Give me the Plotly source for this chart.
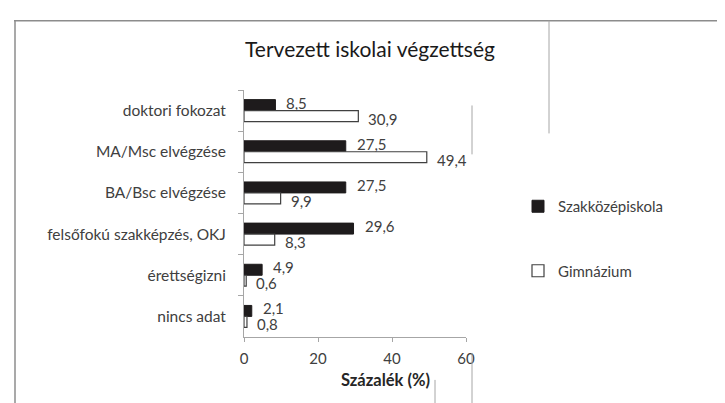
import plotly.graph_objects as go

categories = ["doktori fokozat", "MA/Msc elvégzése", "BA/Bsc elvégzése",
              "felsőfokú szakképzés, OKJ", "érettségizni", "nincs adat"]
szakkozep = [8.5, 27.5, 27.5, 29.6, 4.9, 2.1]
gimnazium = [30.9, 49.4, 9.9, 8.3, 0.6, 0.8]
x_ticks = [0, 20, 40, 60]

FONT = "Lato"
TXT = "#404040"

fig = go.Figure()
fig.add_trace(go.Bar(
    y=categories, x=szakkozep, orientation="h", name="Szakközépiskola",
    marker=dict(color="#1e1b1c", line=dict(color="#1e1b1c", width=1)),
    legendgroup="a"))
fig.add_trace(go.Bar(
    y=categories, x=gimnazium, orientation="h", name="Gimnázium",
    marker=dict(color="white", line=dict(color="#404040", width=1.2)),
    legendgroup="b"))

def fmt(v):
    return f"{v:.1f}".replace(".", ",")

annotations = []
for c, v in zip(categories, szakkozep):
    annotations.append(dict(x=v, y=c, text=fmt(v), showarrow=False, xanchor="left",
                            xshift=9, yshift=8, font=dict(family=FONT, size=15, color=TXT)))
for c, v in zip(categories, gimnazium):
    annotations.append(dict(x=v, y=c, text=fmt(v), showarrow=False, xanchor="left",
                            xshift=8, yshift=-8, font=dict(family=FONT, size=15, color=TXT)))

L, R, T, B = 236, 458, 81.5, 329
def px(x):
    return (x - L) / (R - L)
def py(y):
    return (B - y) / (B - T)

annotations.append(dict(x=px(377), y=py(384), xref="paper", yref="paper",
                        text="<b>Százalék (%)</b>", showarrow=False,
                        font=dict(family=FONT, size=16.5, color="#262626")))

line_col = "#a6a6a6"
shapes = [
    dict(type="line", xref="paper", yref="paper", x0=px(6), x1=px(725), y0=py(12), y1=py(12),
         line=dict(color="#8c8c8c", width=1.5)),
    dict(type="line", xref="paper", yref="paper", x0=px(7), x1=px(7), y0=py(12), y1=py(403),
         line=dict(color="#8c8c8c", width=1.5)),
    dict(type="line", xref="paper", yref="paper", x0=px(541), x1=px(541), y0=py(12), y1=py(125),
         line=dict(color=line_col, width=1)),
    dict(type="line", xref="paper", yref="paper", x0=px(464), x1=px(464), y0=py(97), y1=py(146),
         line=dict(color=line_col, width=1)),
    dict(type="line", xref="paper", yref="paper", x0=px(427), x1=px(427), y0=py(372), y1=py(403),
         line=dict(color=line_col, width=1)),
    dict(type="line", xref="paper", yref="paper", x0=px(464), x1=px(464), y0=py(345), y1=py(403),
         line=dict(color=line_col, width=1)),
]

fig.update_layout(
    width=725, height=403,
    margin=dict(l=L, r=725 - R, t=T, b=403 - B, autoexpand=False),
    paper_bgcolor="white", plot_bgcolor="white",
    barmode="group", bargap=0.467, bargroupgap=0,
    title=dict(text="Tervezett iskolai végzettség", x=362 / 725, xanchor="center",
               y=1 - 42 / 403, yanchor="middle",
               font=dict(family=FONT, size=21, color="#1a1a1a")),
    xaxis=dict(range=[0, 60], tickvals=x_ticks, showgrid=False, zeroline=False,
               automargin=False,
               showline=True, linecolor="#a6a6a6", linewidth=1, ticks="outside",
               ticklen=4, tickcolor="#a6a6a6", ticklabelstandoff=4,
               tickfont=dict(family=FONT, size=15, color=TXT)),
    yaxis=dict(autorange="reversed", showgrid=False, showline=True, linecolor="#a6a6a6",
               automargin=False,
               linewidth=1, ticks="outside", tickson="boundaries", ticklen=5,
               tickcolor="#a6a6a6", ticklabelstandoff=14,
               tickfont=dict(family=FONT, size=15.5, color=TXT)),
    legend=dict(xref="container", yref="container", x=510 / 725, y=1 - 182 / 403,
                xanchor="left", yanchor="top", tracegroupgap=42,
                font=dict(family=FONT, size=15, color=TXT), itemwidth=30,
                bgcolor="rgba(0,0,0,0)"),
    annotations=annotations, shapes=shapes,
    showlegend=True,
)

fig.write_html("out.html")
